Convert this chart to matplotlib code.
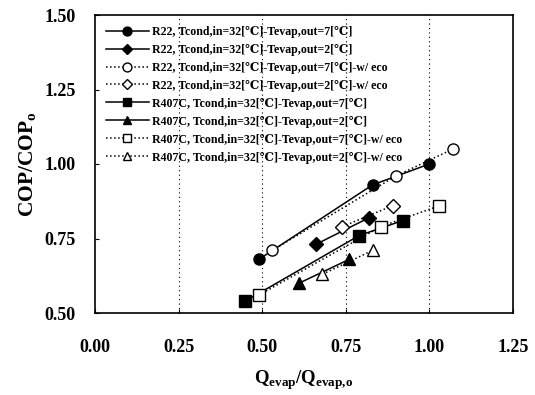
import matplotlib
matplotlib.use("Agg")
import matplotlib.pyplot as plt

plt.rcParams['font.family'] = ['Liberation Serif', 'DejaVu Serif']
plt.rcParams['font.weight'] = 'bold'

labels = [
    "R22, Tcond,in=32[℃]-Tevap,out=7[℃]",
    "R22, Tcond,in=32[℃]-Tevap,out=2[℃]",
    "R22, Tcond,in=32[℃]-Tevap,out=7[℃]-w/ eco",
    "R22, Tcond,in=32[℃]-Tevap,out=2[℃]-w/ eco",
    "R407C, Tcond,in=32[℃]-Tevap,out=7[℃]",
    "R407C, Tcond,in=32[℃]-Tevap,out=2[℃]",
    "R407C, Tcond,in=32[℃]-Tevap,out=7[℃]-w/ eco",
    "R407C, Tcond,in=32[℃]-Tevap,out=2[℃]-w/ eco",
]

r22_7_x = [0.49, 0.83, 1.00]
r22_7_y = [0.68, 0.93, 1.00]
r22_2_x = [0.66, 0.82]
r22_2_y = [0.73, 0.82]
r22_7eco_x = [0.53, 0.90, 1.07]
r22_7eco_y = [0.71, 0.96, 1.05]
r22_2eco_x = [0.74, 0.89]
r22_2eco_y = [0.79, 0.86]
r407_7_x = [0.45, 0.79, 0.92]
r407_7_y = [0.54, 0.76, 0.81]
r407_2_x = [0.61, 0.76]
r407_2_y = [0.60, 0.68]
r407_7eco_x = [0.49, 0.855, 1.03]
r407_7eco_y = [0.56, 0.79, 0.86]
r407_2eco_x = [0.68, 0.83]
r407_2eco_y = [0.63, 0.71]

xticks = [0.00, 0.25, 0.50, 0.75, 1.00, 1.25]
yticks = [0.50, 0.75, 1.00, 1.25, 1.50]

fig = plt.figure(figsize=(5.35, 3.95), dpi=100)
ax = fig.add_axes([95/535, 1-313/395, (513-95)/535, (313-15)/395])

series = [
    (r22_7_x, r22_7_y, 'o', 'k', '-'),
    (r22_2_x, r22_2_y, 'D', 'k', '-'),
    (r22_7eco_x, r22_7eco_y, 'o', 'w', ':'),
    (r22_2eco_x, r22_2eco_y, 'D', 'w', ':'),
    (r407_7_x, r407_7_y, 's', 'k', '-'),
    (r407_2_x, r407_2_y, '^', 'k', '-'),
    (r407_7eco_x, r407_7eco_y, 's', 'w', ':'),
    (r407_2eco_x, r407_2eco_y, '^', 'w', ':'),
]
for (x, y, m, fc, ls), lab in zip(series, labels):
    ms = 7 if m == 'D' else 8
    ax.plot(x, y, linestyle=ls, color='k', lw=1.1, marker=m, mfc=fc, mec='k',
            mew=1.0, ms=ms, label=lab)

ax.set_xlim(0, 1.25)
ax.set_ylim(0.5, 1.5)
ax.set_xticks(xticks)
ax.set_yticks(yticks)
ax.set_xticklabels([f"{v:.2f}" for v in xticks], fontsize=13, fontweight='bold')
ax.set_yticklabels([f"{v:.2f}" for v in yticks], fontsize=13, fontweight='bold')
ax.tick_params(direction='in', length=3)
ax.tick_params(axis='x', pad=19)
ax.tick_params(axis='y', pad=14)
for v in xticks[1:-1]:
    ax.axvline(v, color='k', ls=(0, (1, 3)), lw=0.8, zorder=0)
for s in ax.spines.values():
    s.set_linewidth(1.2)

ax.set_xlabel(r"Q$_{\mathregular{evap}}$/Q$_{\mathregular{evap{,}o}}$", fontsize=13.5,
              fontweight='bold', labelpad=9)
ax.set_ylabel(r"COP/COP$_{\mathregular{o}}$", fontsize=15.5, fontweight='bold', labelpad=4)

leg = ax.legend(loc='upper left', frameon=False, handlelength=3.6,
                borderaxespad=0.5, labelspacing=0.5, handletextpad=0.3,
                markerscale=0.8,
                prop={'weight': 'bold', 'size': 8.6})

fig.savefig("out.png", dpi=100)
